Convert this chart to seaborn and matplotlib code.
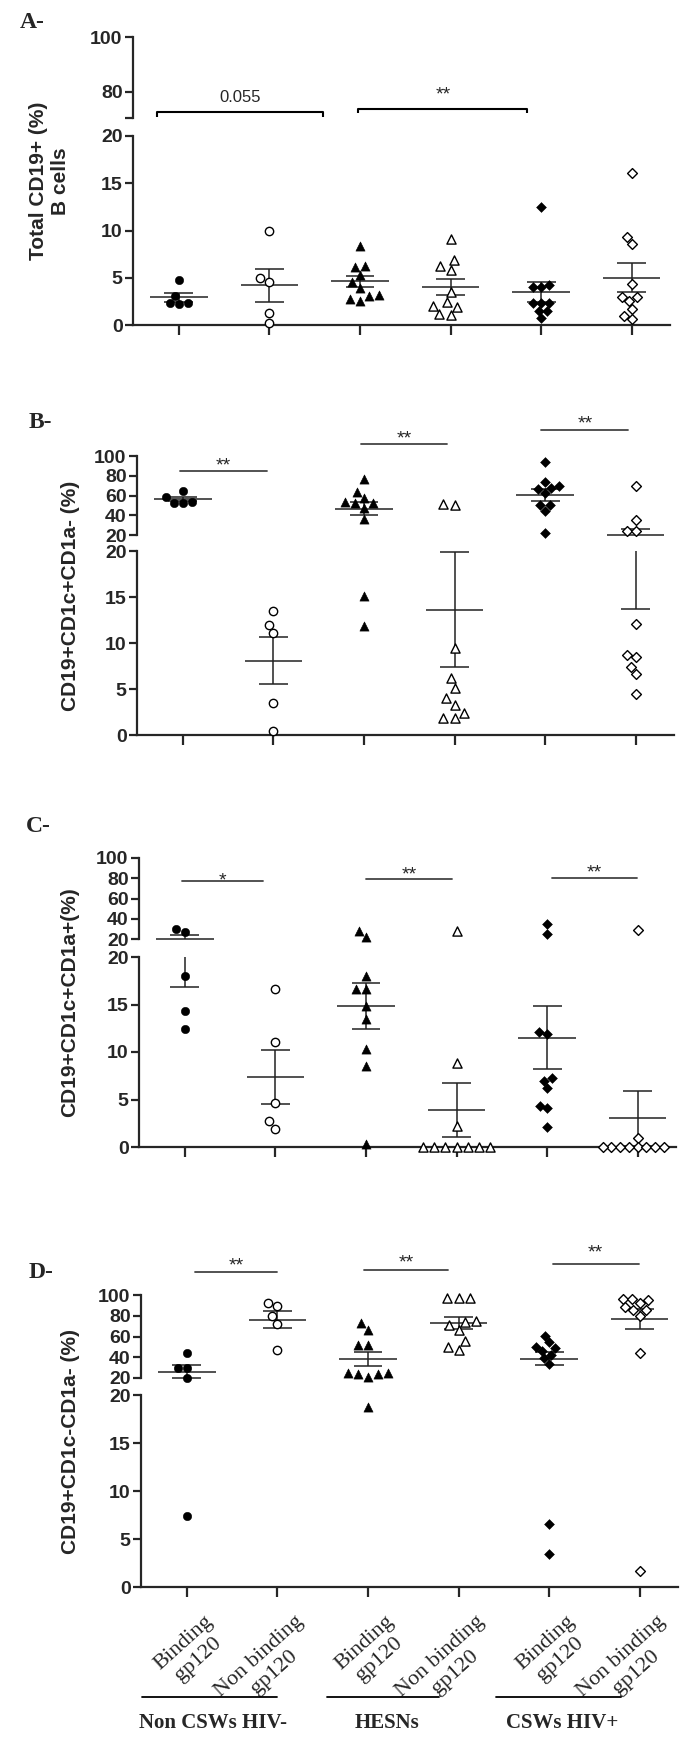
import warnings

import matplotlib
matplotlib.use("Agg")
import matplotlib.pyplot as plt
from matplotlib.collections import PathCollection
from matplotlib.transforms import ScaledTranslation, blended_transform_factory
import numpy as np
import seaborn as sns

warnings.filterwarnings("ignore")

positions = [0, 1, 2, 3, 4, 5]
tick_labels = ["Binding\ngp120", "Non binding\ngp120"] * 3
cohorts = ["Non CSWs HIV-", "HESNs", "CSWs HIV+"]

# A- total CD19+ B cells (%)
a_noncsw_bind = [4.76, 2.29, 2.22, 2.29, 3.07]
a_noncsw_nonbind = [9.98, 4.94, 4.59, 1.3, 0.18]
a_hesn_bind = [8.36, 6.28, 6.17, 5.29, 4.59, 3.95, 3.17, 3.07, 2.54, 2.75]
a_hesn_nonbind = [9.1, 6.28, 6.88, 5.82, 3.46, 1.94, 2.4, 2.05, 1.06, 1.13]
a_csw_bind = [12.45, 4.23, 3.99, 3.99, 2.29, 2.29, 2.29, 1.52, 1.48, 0.71]
a_csw_nonbind = [16.05, 9.28, 8.54, 4.3, 2.54, 3.0, 3.0, 1.69, 0.6, 0.95]

# B- CD19+CD1c+CD1a- (%)
b_noncsw_bind = [64.5, 53.8, 52.8, 52.8, 58.0]
b_noncsw_nonbind = [13.5, 12.0, 11.05, 3.44, 0.47]
b_hesn_bind = [76.4, 63.9, 53.8, 52.0, 52.0, 57.1, 47.0, 36.2, 15.1, 11.9]
b_hesn_nonbind = [51.4, 50.4, 9.5, 6.2, 5.1, 4.0, 3.3, 2.4, 1.9, 1.9]
b_csw_bind = [93.6, 74.0, 68.0, 66.3, 69.6, 62.9, 50.4, 50.4, 44.3, 21.7]
b_csw_nonbind = [70.0, 35.2, 24.0, 24.0, 12.1, 8.66, 8.5, 7.35, 6.6, 4.5]

# C- CD19+CD1c+CD1a+ (%)
c_noncsw_bind = [29.8, 26.6, 18.0, 14.3, 12.45]
c_noncsw_nonbind = [16.6, 11.1, 4.6, 2.7, 1.9]
c_hesn_bind = [28.2, 21.6, 18.0, 16.6, 16.6, 14.8, 13.5, 10.3, 8.5, 0.3]
c_hesn_nonbind = [28.2, 8.8, 2.2, 0, 0, 0, 0, 0, 0, 0]
c_csw_bind = [25.2, 35.0, 12.1, 11.9, 7.24, 7.0, 6.26, 4.34, 4.06, 2.13]
c_csw_nonbind = [29.2, 0.94, 0, 0, 0, 0, 0, 0, 0, 0]

# D- CD19+CD1c-CD1a- (%)
d_noncsw_bind = [44.5, 29.4, 29.4, 20.3, 7.37]
d_noncsw_nonbind = [92.3, 89.0, 80.0, 72.0, 47.0]
d_hesn_bind = [72.9, 66.5, 52.0, 52.0, 25.2, 23.9, 20.6, 23.9, 25.2, 18.8]
d_hesn_nonbind = [97.1, 97.1, 97.1, 75.2, 73.9, 71.0, 65.8, 55.2, 47.1, 49.7]
d_csw_bind = [60.6, 54.5, 48.7, 50.3, 46.1, 42.3, 39.0, 33.5, 6.54, 3.48]
d_csw_nonbind = [96.5, 94.8, 96.5, 88.4, 92.3, 85.2, 85.2, 80.0, 43.9, 1.67]

sns.set_style("ticks")
plt.rcParams["font.family"] = ["Liberation Sans", "DejaVu Sans"]
plt.rcParams["font.weight"] = "bold"
SERIF = ["Liberation Serif", "DejaVu Serif"]

W, H = 700, 1746
fig = plt.figure(figsize=(W / 100, H / 100), dpi=100)

markers = ["o", "o", "^", "^", "D", "D"]
fills = ["black", "white"] * 3
sizes = [6.0, 6.0, 6.6, 6.6, 5.0, 5.0]
XLIM = (-0.508, 5.425)
LW = 1.6


def px_axes(left, top, bottom, width=537):
    return fig.add_axes([left / W, 1 - bottom / H, width / W, (bottom - top) / H])


def draw_group(ax, i, vals, lo, hi):
    vals = np.asarray(vals, dtype=float)
    if hi == 20:
        sub = vals[vals < 20]
    else:
        sub = vals[vals >= lo]
    if len(sub):
        sns.swarmplot(x=np.full(len(sub), i), y=sub, native_scale=True, ax=ax,
                      marker=markers[i], color=fills[i], edgecolor="black",
                      linewidth=1.0 if fills[i] == "white" else 0.4, size=sizes[i])
    m = vals.mean()
    s = vals.std(ddof=1) / np.sqrt(len(vals))
    ax.vlines(i, m - s, m + s, color="#222222", lw=1.1)
    for y, hw in ((m, 0.32), (m - s, 0.16), (m + s, 0.16)):
        if lo <= y <= hi:
            ax.hlines(y, i - hw, i + hw, color="#222222", lw=1.1, clip_on=False)


panels = [
    dict(tag="A-", tag_xy=(32, 23), ylabel="Total CD19+ (%)\nB cells", ylabel_x=50,
         left=133, up=(37, 118), up_lim=(70.5, 100), up_ticks=[70.5, 80, 100],
         up_labels=["", "80", "100"], lo=(136, 325),
         groups=[a_noncsw_bind, a_noncsw_nonbind, a_hesn_bind, a_hesn_nonbind, a_csw_bind, a_csw_nonbind]),
    dict(tag="B-", tag_xy=(40, 423), ylabel="CD19+CD1c+CD1a- (%)", ylabel_x=70,
         left=137, up=(456, 535), up_lim=(20, 100), up_ticks=[20, 40, 60, 80, 100],
         up_labels=["20", "40", "60", "80", "100"], lo=(551, 735),
         groups=[b_noncsw_bind, b_noncsw_nonbind, b_hesn_bind, b_hesn_nonbind, b_csw_bind, b_csw_nonbind]),
    dict(tag="C-", tag_xy=(38, 827), ylabel="CD19+CD1c+CD1a+(%)", ylabel_x=70,
         left=139, up=(858, 939), up_lim=(20, 100), up_ticks=[20, 40, 60, 80, 100],
         up_labels=["20", "40", "60", "80", "100"], lo=(957, 1147),
         groups=[c_noncsw_bind, c_noncsw_nonbind, c_hesn_bind, c_hesn_nonbind, c_csw_bind, c_csw_nonbind]),
    dict(tag="D-", tag_xy=(41, 1273), ylabel="CD19+CD1c-CD1a- (%)", ylabel_x=70,
         left=141, up=(1295, 1378), up_lim=(20, 100), up_ticks=[20, 40, 60, 80, 100],
         up_labels=["20", "40", "60", "80", "100"], lo=(1395, 1587),
         groups=[d_noncsw_bind, d_noncsw_nonbind, d_hesn_bind, d_hesn_nonbind, d_csw_bind, d_csw_nonbind]),
]

# significance lines: x0, x1, line y, text baseline y, text (upper-axis data units)
signif = {
    "B-": [(-0.03, 0.93, 85, 85, "**"), (1.97, 2.92, 112, 113, "**"), (3.96, 4.92, 126, 128, "**")],
    "C-": [(-0.03, 0.86, 77, 73, "*"), (2.0, 2.95, 79, 79, "**"), (4.06, 4.99, 80, 81, "**")],
    "D-": [(0.09, 1.0, 122, 124, "**"), (1.96, 2.88, 124, 127, "**"), (4.04, 4.99, 130, 136, "**")],
}

lower_axes = []
for p in panels:
    ax_up = px_axes(p["left"], *p["up"])
    ax_lo = px_axes(p["left"], *p["lo"])
    for i, vals in enumerate(p["groups"]):
        draw_group(ax_up, i, vals, p["up_lim"][0], p["up_lim"][1])
        draw_group(ax_lo, i, vals, 0, 20)

    for ax in (ax_up, ax_lo):
        for coll in ax.collections:
            if isinstance(coll, PathCollection):
                coll.set_clip_on(False)
        ax.set_xlim(*XLIM)
        ax.set_xlabel("")
        ax.set_ylabel("")
        ax.spines["top"].set_visible(False)
        ax.spines["right"].set_visible(False)
        ax.spines["left"].set_linewidth(LW)
        ax.spines["bottom"].set_linewidth(LW)
        ax.tick_params(axis="y", length=6, width=LW, pad=1.5, labelsize=14)

    ax_up.set_ylim(*p["up_lim"])
    ax_up.set_yticks(p["up_ticks"])
    ax_up.set_yticklabels(p["up_labels"])
    ax_up.spines["bottom"].set_visible(False)
    ax_up.set_xticks([])

    ax_lo.set_ylim(0, 20)
    ax_lo.set_yticks([0, 5, 10, 15, 20])
    ax_lo.set_yticklabels(["0", "5", "10", "15", "20"])
    ax_lo.set_xticks(positions)
    ax_lo.set_xticklabels([])
    ax_lo.tick_params(axis="x", length=7, width=LW)

    fig.text(p["tag_xy"][0] / W, 1 - p["tag_xy"][1] / H, p["tag"], ha="center", va="center",
             fontsize=17, family=SERIF, fontweight="bold")
    yc = (p["up"][0] + p["lo"][1]) / 2
    fig.text(p["ylabel_x"] / W, 1 - yc / H, p["ylabel"], rotation=90, ha="center",
             va="center", fontsize=15, fontweight="bold", multialignment="center")

    for x0, x1, y, ty, txt in signif.get(p["tag"], []):
        ax_up.plot([x0, x1], [y, y], color="#444444", lw=1.3, clip_on=False)
        ax_up.text((x0 + x1) / 2, ty, txt, ha="center", va="baseline", fontsize=14,
                   fontweight="normal", clip_on=False)

    if p["tag"] == "A-":
        for x0, x1, y, yend in ((-0.24, 1.59, 72.7, 70.9), (1.98, 3.85, 73.8, 72.4)):
            ax_up.plot([x0, x0, x1, x1], [yend, y, y, yend], color="black", lw=1.5,
                       clip_on=False, solid_capstyle="butt")
        ax_up.text(0.675, 77.8, "0.055", ha="center", va="center", fontsize=12,
                   fontweight="normal")
        ax_up.text(2.915, 77.1, "**", ha="center", va="baseline", fontsize=14,
                   fontweight="normal")
    lower_axes.append(ax_lo)

# x labels of the last panel
ax_d = lower_axes[-1]
ax_d.set_xticklabels(tick_labels, rotation=42, ha="right", va="top", rotation_mode="anchor",
                     fontsize=16, family=SERIF, fontweight="normal", multialignment="center")
ax_d.tick_params(axis="x", pad=11)
shift = ScaledTranslation(0.17, 0, fig.dpi_scale_trans)
for lab in ax_d.get_xticklabels():
    lab.set_transform(lab.get_transform() + shift)

trans = blended_transform_factory(ax_d.transData, fig.transFigure)
for (x0, x1), name in zip([(-0.5, 0.99), (1.55, 2.78), (3.41, 4.8)], cohorts):
    ax_d.plot([x0, x1], [1 - 1697 / H] * 2, color="black", lw=1.3, transform=trans, clip_on=False)
    ax_d.text((x0 + x1) / 2 + 0.04, 1 - 1723 / H, name, transform=trans, ha="center",
              va="center", fontsize=15, family=SERIF, fontweight="bold")

fig.savefig("out.png", dpi=100)
